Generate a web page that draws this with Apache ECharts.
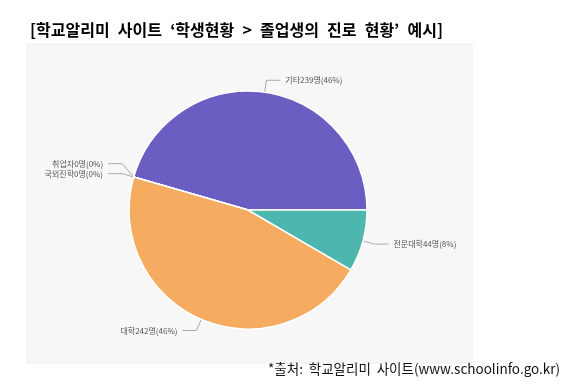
<!DOCTYPE html>
<html><head><meta charset="utf-8">
<script src="https://cdn.jsdelivr.net/npm/echarts@6/dist/echarts.min.js"></script>
<style>html,body{margin:0;padding:0;background:#fff}#c{width:570px;height:391px}</style>
</head><body><div id="c"></div>
<script>
const categories = ['기타', '취업자', '국외진학', '대학', '전문대학'];
const counts = [239, 0, 0, 242, 44];
const percents = [46, 0, 0, 46, 8];
const colors = ['#6a5ec3', '#9a9a9a', '#b0b0b0', '#f5ab60', '#4db7af'];
const titleText = '[학교알리미 사이트 ‘학생현황 > 졸업생의 진로 현황’ 예시]';
const sourceText = '*출처: 학교알리미 사이트(www.schoolinfo.go.kr)';

function wideSpaces(t) {
  return t.split(' ').map(w => '{t|' + w + '}').join('{s| }');
}

const chart = echarts.init(document.getElementById('c'), null, {renderer: 'canvas'});
const data = categories.map((n, i) => ({
  name: n, value: counts[i],
  label: {formatter: n + counts[i] + '명(' + percents[i] + '%)'},
  itemStyle: {color: colors[i]}
}));
chart.setOption({
  animation: false,
  backgroundColor: '#fff',
  graphic: [
    {type: 'rect', shape: {x: 27, y: 44, width: 445, height: 319}, style: {fill: '#f7f7f7', stroke: '#eeeeee', lineWidth: 1}, z: -10},
    {type: 'text', left: 30, top: 12, style: {
      text: wideSpaces(titleText),
      rich: {
        t: {font: 'bold 16px "Noto Sans CJK KR"', fill: '#000', lineHeight: 22},
        s: {font: 'bold 36px "Noto Sans CJK KR"', fill: '#000', lineHeight: 22}
      }
    }},
    {type: 'text', left: 268, top: 356, style: {
      text: wideSpaces(sourceText),
      rich: {
        t: {font: '13.5px "Noto Sans CJK KR"', fill: '#111', lineHeight: 20},
        s: {font: '26px "Noto Sans CJK KR"', fill: '#111', lineHeight: 20}
      }
    }}
  ],
  series: [{
    type: 'pie',
    center: [248, 210],
    radius: 119,
    startAngle: 0,
    clockwise: false,
    minShowLabelAngle: 0,
    stillShowZeroSum: true,
    avoidLabelOverlap: true,
    itemStyle: {borderColor: '#fff', borderWidth: 1.5},
    label: {show: true, fontSize: 8, color: '#555', fontFamily: '"Noto Sans CJK KR"'},
    labelLine: {show: true, length: 12, length2: 14, lineStyle: {color: '#aaa', width: 1}},
    labelLayout: function (p) {
      if ((p.dataIndex === 1 || p.dataIndex === 2) && p.labelLinePoints) {
        const pts = p.labelLinePoints.map(q => [q[0], q[1]]);
        if (pts.length >= 3) {
          pts[1][1] -= 10;
          pts[2][1] -= 10;
        }
        return {dy: -10, labelLinePoints: pts};
      }
      return {};
    },
    emphasis: {disabled: true},
    data: data
  }]
});
</script></body></html>
